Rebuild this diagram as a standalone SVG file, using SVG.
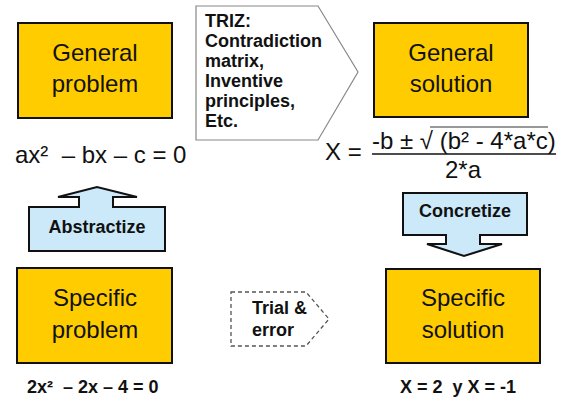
<svg xmlns="http://www.w3.org/2000/svg" width="561" height="403" viewBox="0 0 561 403">
<style>
.box{fill:#FFCC00;stroke:#111;stroke-width:2}
.arr{fill:#CCE9FA;stroke:#111;stroke-width:2}
.lbl{font-family:"Liberation Sans",Arial,sans-serif;font-size:24px;fill:#111;text-anchor:middle}
.b{font-family:"Liberation Sans",Arial,sans-serif;font-weight:bold;font-size:18px;fill:#111}
.eq{font-family:"Liberation Sans",Arial,sans-serif;font-size:24px;fill:#111;white-space:pre}
.pre{white-space:pre}
</style>
<rect width="561" height="403" fill="#fff"/>
<g id="general-problem">
<rect class="box" x="18" y="23" width="154" height="95"/>
<text class="lbl" x="95" y="61">General</text>
<text class="lbl" x="95" y="92">problem</text>
<text class="eq" x="15" y="163" xml:space="preserve">ax²  – bx – c = 0</text>
</g>
<g id="general-solution">
<rect class="box" x="374" y="23" width="154" height="94"/>
<text class="lbl" x="451" y="61">General</text>
<text class="lbl" x="451" y="92">solution</text>
</g>
<g id="formula">
<text class="eq" x="325" y="160">X =</text>
<text class="eq" x="372" y="149">-b ± √ (b² - 4*a*c)</text>
<line x1="430" y1="127" x2="548" y2="127" stroke="#333" stroke-width="1"/>
<line x1="372" y1="154" x2="556" y2="154" stroke="#111" stroke-width="1.5"/>
<text class="eq" x="463" y="178" text-anchor="middle">2*a</text>
</g>
<g id="triz">
<polygon points="196,6 318,6 358,72 318,140 196,140" fill="#fff" stroke="#888" stroke-width="1.2"/>
<text class="b" x="205" y="27">TRIZ:</text>
<text class="b" x="205" y="47">Contradiction</text>
<text class="b" x="205" y="67">matrix,</text>
<text class="b" x="205" y="87">Inventive</text>
<text class="b" x="205" y="107">principles,</text>
<text class="b" x="205" y="127">Etc.</text>
</g>
<g id="specific-problem">
<rect class="box" x="17" y="268" width="155" height="95"/>
<text class="lbl" x="95" y="306">Specific</text>
<text class="lbl" x="95" y="338">problem</text>
<text class="b pre" x="27" y="393" font-size="16" xml:space="preserve">2x²  – 2x – 4 = 0</text>
</g>
<g id="specific-solution">
<rect class="box" x="386" y="269" width="154" height="94"/>
<text class="lbl" x="463" y="306">Specific</text>
<text class="lbl" x="463" y="338">solution</text>
<text class="b pre" x="458" y="393" font-size="16" text-anchor="middle" xml:space="preserve">X = 2  y X = -1</text>
</g>
<g id="connectors">
<g id="abstractize">
<polygon class="arr" points="29,207 79,207 79,197 58,197 97,187 137,197 113,197 113,207 165,207 165,251 29,251"/>
<text class="b" x="97" y="233" text-anchor="middle">Abstractize</text>
</g>
<g id="concretize">
<polygon class="arr" points="403,193 527,193 527,235 480,235 480,244 502,244 464,256 427,244 446,244 446,235 403,235"/>
<text class="b" x="465" y="217" text-anchor="middle">Concretize</text>
</g>
<g id="trial">
<polygon points="231,292 306,292 329,319 306,346 231,346" fill="#fff" stroke="#555" stroke-width="1.3" stroke-dasharray="4,3"/>
<text class="b" x="252" y="314">Trial &amp;</text>
<text class="b" x="252" y="336">error</text>
</g>
</g>
</svg>
